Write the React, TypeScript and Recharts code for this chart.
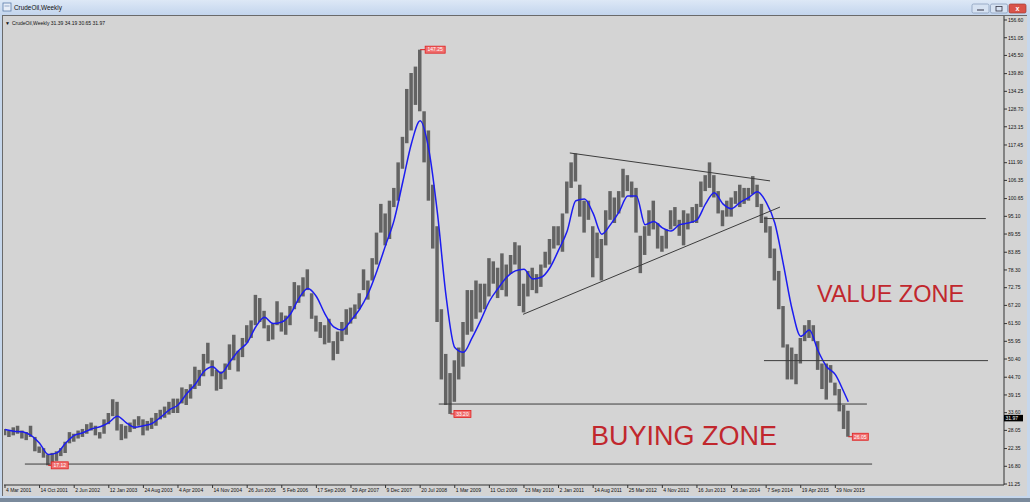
import React from 'react';
import { ComposedChart, Bar, Line, XAxis, YAxis, ReferenceLine, ReferenceDot } from 'recharts';

const dateLabels = [
  '4 Mar 2001', '14 Oct 2001', '2 Jun 2002', '12 Jan 2003', '24 Aug 2003', '4 Apr 2004',
  '14 Nov 2004', '26 Jun 2005', '5 Feb 2006', '17 Sep 2006', '29 Apr 2007', '9 Dec 2007',
  '20 Jul 2008', '1 Mar 2009', '11 Oct 2009', '23 May 2010', '2 Jan 2011', '14 Aug 2011',
  '25 Mar 2012', '4 Nov 2012', '16 Jun 2013', '26 Jan 2014', '7 Sep 2014', '19 Apr 2015',
  '29 Nov 2015',
];

const priceTicks = [
  11.25, 16.8, 22.35, 28.05, 33.6, 39.15, 44.7, 50.4, 55.95, 61.5, 67.2, 72.75, 78.3, 83.85,
  89.55, 95.1, 100.65, 106.35, 111.9, 117.45, 123.15, 128.7, 134.25, 139.8, 145.5, 151.05, 156.6,
];

// one bar per 4 weekly slots
const lows = [
  26.5, 26, 26.5, 27, 25.5, 25, 26, 21.5, 21, 19.5, 17.1, 17.8, 18.5, 20, 21, 24,
  24.5, 25.5, 26, 27, 28, 26.5, 25.5, 27, 30, 32.5, 28, 25, 25.5, 27.5, 28.5, 29.5,
  26.5, 28, 28.5, 29.5, 31.5, 32, 33, 33.5, 33.5, 36.5, 36, 38, 41, 42, 45, 49,
  45, 40.5, 41, 44, 47, 50, 46.5, 51, 55.5, 57, 61, 62, 60, 56, 56.5, 61,
  59, 58, 61, 66, 68, 70, 72, 63, 59, 57, 55, 55.5, 50, 52, 56, 58,
  61.5, 63, 66, 72, 69, 75, 80, 90, 86, 88, 98, 100, 110, 118, 122, 130,
  128, 112, 100, 85, 62, 44, 36, 33.2, 37, 44, 48, 58, 59, 63, 65, 66,
  70, 74, 69.5, 72, 70, 77, 80, 67, 65, 70, 72, 71, 73, 79, 80, 85,
  86, 84, 96, 104, 106, 95, 90, 94, 76, 82, 75, 86, 94, 93, 96, 101,
  103, 101, 90, 77.3, 83, 89, 91, 85, 84, 85, 91, 92, 89, 86, 91, 93,
  93, 98, 103, 104, 101, 96, 92, 95, 95, 99, 98, 99, 100, 102, 98, 93,
  90, 82, 75, 66, 54, 44, 44, 42.5, 49, 56, 57, 56, 47, 41, 37.7, 43,
  39, 34, 28.5, 26.05,
];
const highs = [
  28.5, 28, 29, 29.5, 28, 27.5, 29.5, 26, 23, 22.5, 20.5, 21, 21.5, 22.5, 24.5, 27.5,
  27, 28, 28.5, 30, 30.5, 29.5, 27.5, 31.5, 33.5, 37.8, 37, 30, 29.5, 30.5, 31.5, 32.5,
  31.5, 31, 32, 33.5, 34.5, 35.5, 37, 38, 38, 41.5, 41, 42.5, 48, 47, 52, 55.5,
  50, 47, 46.5, 49, 55, 58, 53, 57, 61, 62.5, 70.5, 69.5, 65.5, 61, 61.5, 68.5,
  65, 64, 67, 74.5, 73.5, 76, 78.5, 71, 64, 62, 61, 63, 56, 59, 62, 66,
  66.5, 67.5, 71, 78.5, 75, 82, 90, 99, 96, 100, 104, 112, 120, 135, 140, 142,
  147.3, 128, 122, 105, 92, 66, 52, 46, 50, 54, 62, 72, 72, 75, 74, 74,
  82, 81, 79, 83.5, 80, 83, 87, 86, 74, 78, 79, 77, 80, 84, 88, 92,
  92, 96, 106, 112, 114.8, 105, 100, 100, 92, 90, 88, 97, 103, 101, 103, 110,
  108, 106, 104, 89, 92, 97, 100, 93, 89, 91, 97, 98, 94, 97, 96, 98,
  99, 106, 108, 112, 108, 103, 97, 100, 101, 103, 105, 104, 104, 107.7, 105, 99,
  95, 92, 85, 78, 67, 55, 54, 52, 57, 61, 62.6, 61, 56, 49, 49, 48.5,
  43, 41, 36, 34.2,
];

// moving average, read at every second bar (plus the last bar)
const maValues = [
  28.3, 27.8, 27.6, 26.5, 24, 20.5, 21, 24, 26.5, 27.3, 28.5, 29.2, 30.5, 32.5, 30.5, 29,
  29.5, 30.2, 32.2, 34.5, 36, 39.5, 42.5, 46.5, 48, 46, 49.5, 53, 55.5, 60.5, 63.5, 61.5,
  62, 64.5, 69.5, 72.5, 70, 64.5, 60.5, 59.5, 62.5, 66, 71, 78, 86, 94, 106, 118,
  125, 116, 96, 70, 54, 52.5, 57, 62.5, 68.5, 72.5, 76, 78, 78.5, 75.5, 76, 79,
  84.5, 90.5, 100, 100.5, 96, 89.5, 92.5, 96.5, 101.5, 101.5, 92.5, 93.5, 91.5, 90.5, 92.5, 93,
  94, 99, 102.5, 99, 97.5, 99.5, 101, 102.8, 99.5, 93, 80, 66, 57.5, 59.5, 53, 48,
  45.5, 40, 37,
];

const hLevels = [
  { from: 4.6, to: 200.5, y: 17.5 },
  { from: 100.3, to: 199.3, y: 36.3 },
  { from: 175.5, to: 226.8, y: 94.4 },
  { from: 175.5, to: 227.3, y: 49.9 },
];
const trendLines = [
  { x1: 130.6, y1: 114.95, x2: 176.9, y2: 106.2 },
  { x1: 119.8, y1: 64.4, x2: 179.2, y2: 98.0 },
];
const priceTags = [
  { i: 96, p: 147.3, text: '147.25', dx: 5, w: 20 },
  { i: 103, p: 33.2, text: '33.20', dx: 3.5, w: 17 },
  { i: 195, p: 26.05, text: '26.05', dx: 4, w: 16 },
  { i: 10, p: 17.1, text: '17.12', dx: 3, w: 17 },
];
const headerText = 'CrudeOil,Weekly  31.39 34.19 30.65 31.97';
const lastPrice = 31.97;

const data = lows.map((lo, i) => {
  const k = i % 2 === 0 ? i / 2 : -1;
  let ma: number | null = null;
  if (k >= 0 && k < maValues.length - 1) ma = maValues[k];
  if (i === lows.length - 1) ma = maValues[maValues.length - 1];
  return { i, range: [lo, highs[i]], ma };
});

const FONT = 'Liberation Sans, Arial, sans-serif';

const XTick = (props: any) => {
  const { x, y, payload } = props;
  return (
    <text x={x + 1} y={y + 3.5} fontSize={5} fill="#111" textAnchor="start" fontFamily={FONT}>
      {dateLabels[Math.round(payload.value / 8)]}
    </text>
  );
};
const YTick = (props: any) => {
  const { x, y, payload } = props;
  return (
    <text x={x} y={y + 1.8} fontSize={5} fill="#111" textAnchor="start" fontFamily={FONT}>
      {Number(payload.value).toFixed(2)}
    </text>
  );
};

const makeTag = (text: string, dx: number, w: number) => (props: any) => {
  const { cx, cy } = props;
  return (
    <g>
      <line x1={cx} y1={cy} x2={cx + dx} y2={cy} stroke="#e01818" strokeWidth={1} />
      <rect x={cx + dx} y={cy - 3.5} width={w} height={7} fill="#f07070" stroke="#e02020" strokeWidth={0.8} />
      <text x={cx + dx + w / 2} y={cy + 1.8} fontSize={5} fill="#fff" textAnchor="middle" fontFamily={FONT}>
        {text}
      </text>
    </g>
  );
};

const LastTag = (props: any) => {
  const { cx, cy } = props;
  return (
    <g>
      <rect x={cx} y={cy - 3} width={19} height={6.5} fill="#000" />
      <text x={cx + 1.5} y={cy + 1.8} fontSize={5} fill="#fff" fontFamily={FONT}>
        {lastPrice.toFixed(2)}
      </text>
    </g>
  );
};

export default function App() {
  return (
    <div style={{ position: 'absolute', left: 0, top: 0, width: 1030, height: 502, overflow: 'hidden', background: '#c6d7ec' }}>
      <div style={{ position: 'absolute', left: 0, top: 0, width: 1030, height: 15, background: 'linear-gradient(#dde8f6, #c3d5ed)' }} />
      <div style={{ position: 'absolute', left: 2, top: 15, width: 1025, height: 481, background: '#d4d4d4', borderTop: '1px solid #6a6a6a', borderLeft: '1px solid #6a6a6a', boxSizing: 'border-box' }} />
      <div style={{ position: 'absolute', left: 0, top: 498, width: 1030, height: 4, background: '#7a8a9c' }} />
      <div style={{ position: 'absolute', left: 0, top: 0 }}>
        <ComposedChart width={1030} height={502} data={data} margin={{ top: 16, right: 0, bottom: 0, left: 4 }}>
          <XAxis
            dataKey="i"
            type="number"
            domain={[-0.23, 231]}
            ticks={dateLabels.map((_, k) => k * 8)}
            interval={0}
            height={17}
            tickSize={3}
            tickMargin={0}
            tick={<XTick />}
            axisLine={{ stroke: '#333' }}
            tickLine={{ stroke: '#333' }}
            allowDataOverflow
          />
          <YAxis
            orientation="right"
            type="number"
            domain={[10.94, 157.85]}
            ticks={priceTicks}
            interval={0}
            width={26}
            tickSize={3}
            tickMargin={1}
            tick={<YTick />}
            axisLine={{ stroke: '#333' }}
            tickLine={{ stroke: '#333' }}
            allowDataOverflow
          />
          <Bar dataKey="range" fill="#636363" barSize={3.5} isAnimationActive={false} />
          <Line
            dataKey="ma"
            type="monotone"
            stroke="#1c1cf0"
            strokeWidth={1.5}
            dot={false}
            connectNulls
            isAnimationActive={false}
          />
          {hLevels.map((h, k) => (
            <ReferenceLine
              key={'h' + k}
              segment={[{ x: h.from, y: h.y }, { x: h.to, y: h.y }]}
              stroke="#3c3c3c"
              strokeWidth={1}
            />
          ))}
          {trendLines.map((t, k) => (
            <ReferenceLine
              key={'t' + k}
              segment={[{ x: t.x1, y: t.y1 }, { x: t.x2, y: t.y2 }]}
              stroke="#3c3c3c"
              strokeWidth={1}
            />
          ))}
          {priceTags.map((t, k) => (
            <ReferenceDot key={'p' + k} x={t.i} y={t.p} shape={makeTag(t.text, t.dx, t.w)} />
          ))}
          <ReferenceDot x={231} y={lastPrice} shape={LastTag} />
        </ComposedChart>
      </div>
      <svg width={1030} height={502} style={{ position: 'absolute', left: 0, top: 0, pointerEvents: 'none' }}>
        <rect x={3} y={3} width={8} height={8} fill="#e8eef8" stroke="#5a7aa8" strokeWidth={0.8} />
        <line x1={4.5} y1={6} x2={9.5} y2={6} stroke="#5a7aa8" strokeWidth={0.6} />
        <text x={14} y={10} fontSize={6.4} fill="#111" fontFamily={FONT}>CrudeOil,Weekly</text>
        <rect x={972} y={4} width={17} height={9} rx={1.5} fill="#d6e2f2" stroke="#8197b5" strokeWidth={0.7} />
        <line x1={977} y1={10} x2={984} y2={10} stroke="#334" strokeWidth={1} />
        <rect x={990.5} y={4} width={17} height={9} rx={1.5} fill="#d6e2f2" stroke="#8197b5" strokeWidth={0.7} />
        <rect x={996} y={6.5} width={6} height={4.5} fill="none" stroke="#334" strokeWidth={0.8} />
        <rect x={1009} y={4} width={17} height={9} rx={1.5} fill="#d9534a" stroke="#9e3a34" strokeWidth={0.7} />
        <text x={1017.5} y={11} fontSize={7} fill="#fff" textAnchor="middle" fontFamily={FONT} fontWeight="bold">x</text>
        <text x={5} y={24.5} fontSize={5} fill="#111" fontFamily={FONT}>▼</text>
        <text x={12} y={24.5} fontSize={5} fill="#111" fontFamily={FONT}>{headerText}</text>
        <text x={817} y={302} fontSize={23.5} fill="#c1272d" fontFamily={FONT}>VALUE ZONE</text>
        <text x={591} y={445} fontSize={27} fill="#c1272d" fontFamily={FONT}>BUYING ZONE</text>
      </svg>
    </div>
  );
}
